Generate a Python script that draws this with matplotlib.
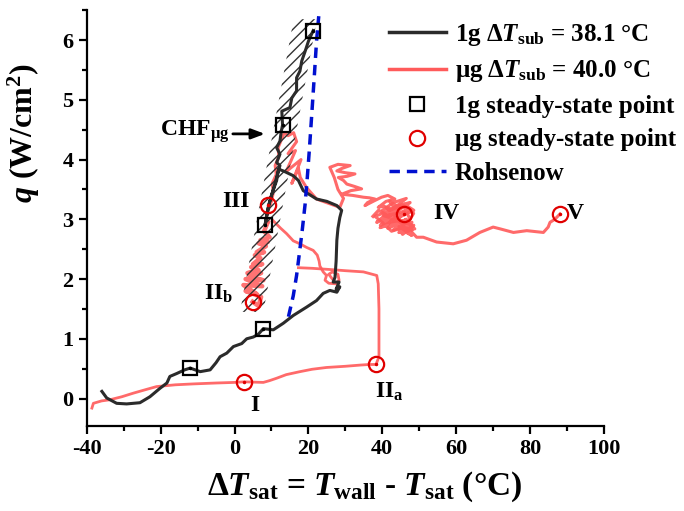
import matplotlib
matplotlib.use("Agg")
import matplotlib.pyplot as plt
from matplotlib.lines import Line2D
from matplotlib.ticker import MultipleLocator

plt.rcParams["font.family"] = ["Liberation Serif", "DejaVu Serif"]
plt.rcParams["font.weight"] = "bold"
plt.rcParams["mathtext.fontset"] = "custom"
plt.rcParams["mathtext.rm"] = "Liberation Serif:bold"
plt.rcParams["mathtext.it"] = "Liberation Serif:italic:bold"
plt.rcParams["mathtext.bf"] = "Liberation Serif:bold"
plt.rcParams["hatch.linewidth"] = 1.0
plt.rcParams["axes.unicode_minus"] = False

# 1g transient curve
g1_x = [-35.9, -34.6, -31.9, -29.2, -25.6, -22.9, -20.2, -18.3, -17.5, -15.6, -13.5, -12.0,
        -9.3, -6.6, -5.0, -3.9, -2.1, -0.3, 1.95, 3.3, 5.1, 6.5, 7.8, 10.5, 13.2, 15.9, 19.5,
        22.2, 24.0, 25.8, 27.7, 28.5, 27.5, 28.3, 26.7, 27.2, 27.5, 27.7, 28.0, 28.5, 29.0,
        27.7, 25.0, 22.2, 18.6, 17.3, 15.9, 13.2, 11.9, 11.4, 10.1, 9.15, 8.25, 9.3, 10.5,
        11.6, 12.3, 11.4, 12.3, 11.4, 12.3, 12.6, 13.0, 12.8, 15.0, 15.5, 16.8, 16.8, 17.7,
        18.2, 19.1, 20.0, 21.3]
g1_q = [0.12, 0.01, -0.08, -0.09, -0.07, 0.03, 0.17, 0.26, 0.37, 0.42, 0.48, 0.51,
        0.45, 0.48, 0.6, 0.7, 0.76, 0.87, 0.92, 1.0, 1.03, 1.08, 1.17, 1.15, 1.26, 1.39, 1.53,
        1.64, 1.76, 1.81, 1.78, 1.87, 1.83, 1.95, 1.95, 2.03, 2.3, 2.65, 2.85, 3.03, 3.15,
        3.23, 3.3, 3.34, 3.48, 3.65, 3.73, 3.81, 3.84, 3.65, 3.42, 3.2, 2.9, 3.25, 3.5,
        3.75, 3.9, 3.95, 4.09, 4.2, 4.31, 4.45, 4.58, 4.81, 4.87, 5.03, 5.15, 5.37, 5.48,
        5.65, 5.81, 5.98, 6.16]

# microgravity transient curve, in pieces
ug_low_x = [-38.6, -38.2, -36.0, -33.7, -30.5, -27.4, -24.0, -21.1, -16.0, -11.1, -5.0, 0.0,
            2.65, 5.0, 7.8, 9.5, 11.4, 14.0, 17.7, 21.0, 24.9, 30.0, 34.0, 36.5, 38.3, 39.1,
            39.1, 38.9, 38.5, 34.9, 30.0, 25.8, 21.0, 17.3]
ug_low_q = [-0.16, -0.08, -0.04, -0.02, 0.03, 0.09, 0.15, 0.2, 0.23, 0.245, 0.26, 0.27,
            0.28, 0.275, 0.27, 0.3, 0.34, 0.4, 0.45, 0.49, 0.52, 0.54, 0.56, 0.57, 0.57, 0.7,
            1.5, 1.92, 2.06, 2.12, 2.14, 2.16, 2.18, 2.19]

ug_loop_x = [10.4, 12.5, 14.1, 15.9, 17.7, 19.5, 21.3, 22.4, 22.9, 23.1, 24.0, 24.9, 24.5,
             25.5, 27.5, 28.3, 28.0, 26.5, 25.5, 26.5]
ug_loop_q = [2.98, 2.85, 2.76, 2.64, 2.59, 2.53, 2.48, 2.4, 2.3, 2.22, 2.12, 2.06, 1.98,
             1.93, 1.92, 1.98, 2.08, 2.12, 2.08, 2.0]

# thick scribble around II_b
ug_iib_x = [4.9, 6.5, 7.2, 3.0, 6.0, 2.4, 7.5, 3.0, 7.8, 4.0, 7.2, 3.5, 6.5, 4.5, 7.5, 5.0,
            7.0, 5.5, 8.0, 6.0, 8.5, 6.5, 9.0, 7.0, 9.5, 8.0, 9.0]
ug_iib_q = [1.62, 1.55, 1.7, 1.8, 1.75, 1.9, 1.88, 2.0, 1.98, 2.05, 2.1, 2.1, 2.15, 2.2,
            2.25, 2.25, 2.35, 2.4, 2.45, 2.45, 2.55, 2.6, 2.62, 2.65, 2.7, 2.8, 2.95]

ug_main_x = [9.0, 8.6, 9.4, 10.0, 10.5, 10.2, 11.3, 11.0, 12.0, 11.8, 12.8, 13.5, 14.5, 16.0,
             16.8, 14.5, 16.5, 14.0, 18.0, 15.5, 17.3, 17.8, 19.5, 22.2, 25.8, 28.5, 29.5,
             28.0, 27.0, 25.8, 28.0, 31.3, 29.0, 27.7, 30.0, 32.6, 30.5, 28.1, 29.5, 30.4,
             32.5, 34.4, 31.5, 29.0, 32.0, 34.9, 36.5, 38.0, 36.0, 35.3, 37.5, 39.8, 41.5,
             43.4, 41.0, 38.9, 40.5, 42.1, 44.0, 45.7, 47.5, 44.0, 40.3, 42.5, 44.8, 42.0,
             39.4, 41.5, 43.0, 45.7, 47.5, 46.0, 48.5, 47.0, 48.8, 45.0, 42.5, 40.0, 38.0,
             41.0, 44.5, 46.5, 43.0, 40.0, 44.0, 48.0, 46.5, 48.0, 44.5, 47.0, 49.3,
             51.1, 54.7, 59.2, 62.8, 66.4, 70.0, 71.9, 75.5, 79.1, 83.6, 84.9, 85.4, 86.7,
             88.1]
ug_main_q = [2.95, 3.05, 3.2, 3.3, 3.45, 3.6, 3.75, 3.9, 4.05, 4.2, 4.35, 4.45, 4.4, 4.45,
             4.3, 4.1, 4.15, 3.8, 4.0, 3.6, 3.85, 3.7, 3.53, 3.34, 3.26, 3.2, 3.35, 3.5,
             3.7, 3.87, 3.92, 3.9, 3.85, 3.81, 3.78, 3.76, 3.72, 3.7, 3.65, 3.59, 3.55, 3.51,
             3.48, 3.42, 3.4, 3.37, 3.36, 3.34, 3.28, 3.23, 3.3, 3.37, 3.4, 3.34, 3.3, 3.2,
             3.22, 3.15, 3.2, 3.23, 3.17, 3.1, 3.06, 3.02, 2.98, 2.95, 2.86, 2.9, 3.05,
             2.9, 3.0, 3.2, 3.1, 2.95, 2.84, 2.85, 2.8, 2.95, 3.05, 3.12, 3.25, 3.35, 3.28,
             3.15, 3.0, 2.9, 2.78, 2.73, 2.88, 2.85, 2.7,
             2.7, 2.62, 2.59, 2.65, 2.78, 2.87, 2.84, 2.78, 2.81, 2.78, 2.87, 2.95, 3.0,
             3.09]

# dense scribble around IV
ug_iv_x = [37.5, 39.0, 41.0, 38.5, 40.5, 43.0, 39.5, 42.0, 45.0, 41.5, 44.0, 46.5, 43.0,
           45.5, 48.0, 44.5, 47.0, 41.0, 43.5, 46.0, 48.5, 45.0, 42.0, 44.0, 47.5, 43.0,
           40.5, 42.5, 46.0, 44.0, 47.0, 48.5, 45.5, 43.5, 46.5, 48.0]
ug_iv_q = [3.05, 3.15, 3.08, 2.95, 3.02, 3.12, 2.9, 2.98, 3.05, 2.85, 2.92, 3.0, 2.82,
           2.88, 2.95, 2.78, 2.85, 3.2, 3.15, 3.25, 3.15, 3.05, 3.3, 3.22, 3.28, 3.1,
           3.0, 2.92, 3.12, 3.0, 2.8, 2.9, 2.75, 2.95, 2.98, 2.82]

# steady-state points
ss1g_x = [-12.0, 7.8, 8.25, 13.0, 21.3]
ss1g_q = [0.51, 1.17, 2.9, 4.58, 6.16]
ssug_x = [2.65, 38.3, 4.9, 9.15, 46.0, 88.1]
ssug_q = [0.28, 0.57, 1.62, 3.245, 3.09, 3.09]

# Rohsenow correlation
roh_x = [14.6, 15.9, 16.8, 17.6, 18.3, 19.1, 19.7, 20.3, 20.9, 21.6, 22.2, 22.8]
roh_q = [1.37, 1.72, 2.06, 2.45, 2.8, 3.25, 3.7, 4.2, 4.75, 5.4, 5.98, 6.4]

# hatched band outline
band_x = [1.5, 16.0, 22.3, 7.8]
band_q = [1.45, 6.35, 6.35, 1.45]

# point labels
lab_text = ["I", r"II$_{\rm a}$", r"II$_{\rm b}$", "III", "IV", "V"]
lab_x = [5.5, 38.0, -0.4, 4.2, 53.7, 89.9]
lab_q = [-0.12, 0.11, 1.76, 3.29, 3.09, 3.1]
lab_ha = ["center", "left", "right", "right", "left", "left"]

BLACK = "#2b2b2b"
RED = "#ff5a5a"
BLUE = "#0010d0"

fig = plt.figure(figsize=(6.84, 5.11), dpi=100)
ax = fig.add_axes([0.1268, 0.1663, 0.7562, 0.8137])

ax.plot(ug_low_x, ug_low_q, color=RED, lw=2.0, alpha=0.9, zorder=2)
ax.plot(ug_loop_x, ug_loop_q, color=RED, lw=2.0, alpha=0.9, zorder=2)
ax.plot(ug_iib_x, ug_iib_q, color=RED, lw=3.2, alpha=0.85, zorder=2)
ax.plot(ug_main_x, ug_main_q, color=RED, lw=2.2, alpha=0.9, zorder=2)
ax.plot(ug_iv_x, ug_iv_q, color=RED, lw=2.4, alpha=0.9, zorder=2)
ax.fill(band_x, band_q, facecolor="none", edgecolor="#333333", hatch="///", lw=0, zorder=3)
ax.plot(g1_x, g1_q, color=BLACK, lw=2.2, zorder=4)
ax.plot(roh_x, roh_q, color=BLUE, lw=2.5, dashes=(3, 2), zorder=5)
ax.plot(ss1g_x, ss1g_q, ls="none", marker="s", ms=10, mfc="none", mec="black", mew=1.6, zorder=6)
ax.plot(ss1g_x, ss1g_q, ls="none", marker=".", ms=3, color="black", zorder=6)
ax.plot(ssug_x, ssug_q, ls="none", marker="o", ms=11, mfc="none", mec="#e00000", mew=1.6, zorder=6)
ax.plot(ssug_x, ssug_q, ls="none", marker=".", ms=3, color="#e00000", zorder=6)

for t, x, y, ha in zip(lab_text, lab_x, lab_q, lab_ha):
    ax.text(x, y, t, fontsize=17, fontweight="bold", ha=ha, va="center", zorder=7)

ax.annotate("", xy=(9.0, 4.43), xytext=(-1.2, 4.43),
            arrowprops=dict(arrowstyle="-|>,head_length=0.8,head_width=0.3", color="black", lw=2))
ax.text(-1.5, 4.46, r"CHF$_{\rm μg}$", fontsize=17, fontweight="bold", ha="right", va="center")

ax.set_xlim(-40, 100)
ax.set_ylim(-0.46, 6.5)
ax.xaxis.set_major_locator(MultipleLocator(20))
ax.xaxis.set_minor_locator(MultipleLocator(10))
ax.yaxis.set_major_locator(MultipleLocator(1))
ax.yaxis.set_minor_locator(MultipleLocator(0.5))
for side in ["top", "right"]:
    ax.spines[side].set_visible(False)
for side in ["left", "bottom"]:
    ax.spines[side].set_linewidth(1.6)
ax.tick_params(which="major", direction="out", length=6, width=1.6, labelsize=16)
ax.tick_params(which="minor", direction="out", length=3.5, width=1.6)
for lbl in ax.get_xticklabels() + ax.get_yticklabels():
    lbl.set_fontweight("bold")

fig.text(0.533, 0.047, r"$\Delta T_{\rm sat}$ = $T_{\rm wall}$ - $T_{\rm sat}$ (°C)",
         fontsize=24, fontweight="bold", ha="center", va="center")
fig.text(0.035, 0.74, r"$q$ (W/cm$^{\rm 2}$)", fontsize=23, fontweight="bold",
         rotation=90, ha="center", va="center")

handles = [
    Line2D([], [], color=BLACK, lw=2.5),
    Line2D([], [], color=RED, lw=2.5),
    Line2D([], [], ls="none", marker="s", ms=10, mfc="none", mec="black", mew=1.6),
    Line2D([], [], ls="none", marker="o", ms=11, mfc="none", mec="#e00000", mew=1.6),
    Line2D([], [], color=BLUE, lw=2.5, dashes=(3, 2)),
]
labels = [
    r"1g $\Delta T_{\rm sub}$ = 38.1 °C",
    r"μg $\Delta T_{\rm sub}$ = 40.0 °C",
    "1g steady-state point",
    "μg steady-state point",
    "Rohsenow",
]
leg = fig.legend(handles, labels, loc="upper left", bbox_to_anchor=(0.568, 0.957),
                 frameon=False, prop={"family": "Liberation Serif", "weight": "bold", "size": 18},
                 handlelength=2.3, handletextpad=0.35, labelspacing=0.42, borderpad=0,
                 borderaxespad=0)

fig.savefig("out.png", dpi=100)
